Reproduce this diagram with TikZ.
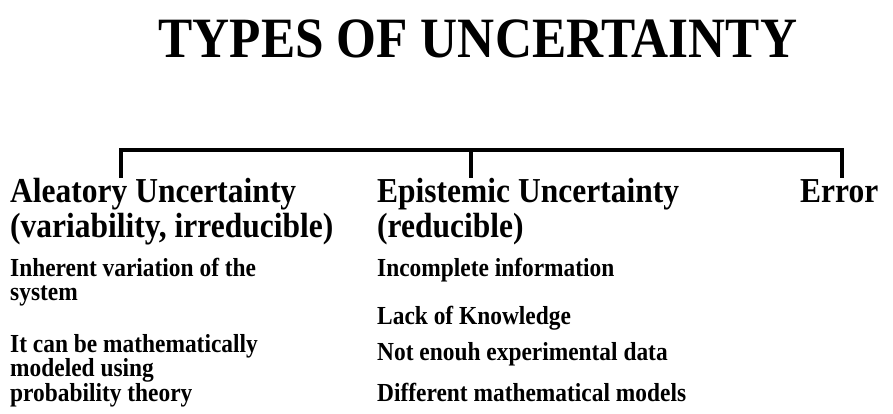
\documentclass[tikz,border=0pt]{standalone}
\usepackage{fontspec}
\setmainfont{Liberation Serif}
\newfontfamily\uncfont[FakeStretch=0.9]{Liberation Serif}

\begin{document}
\begin{tikzpicture}[
    x=1pt, y=-1pt,
    titlelbl/.style = {font=\uncfont\bfseries\fontsize{57}{60}\selectfont, anchor=base, inner sep=0pt},
    headlbl/.style  = {font=\uncfont\bfseries\fontsize{35}{38}\selectfont, anchor=base west, inner sep=0pt},
    bodylbl/.style  = {font=\uncfont\bfseries\fontsize{26}{28}\selectfont, anchor=base west, inner sep=0pt},
    bracket/.style  = {black, line width=3.5pt}
  ]
  \useasboundingbox (0,0) rectangle (893,414);

  \node[titlelbl] (title) at (478, 58) {TYPES OF UNCERTAINTY};

  % bracket
  \coordinate (barL) at (121, 150);
  \coordinate (barM) at (471, 150);
  \coordinate (barR) at (842, 150);
  \coordinate (legL) at (121, 178);
  \coordinate (legM) at (471, 178);
  \coordinate (legR) at (842, 178);
  \draw[bracket] (legL) -- (barL) -- (barR) -- (legR);
  \draw[bracket] (barM) -- (legM);

  % aleatory
  \node[headlbl] (aleaHead) at (10, 202) {Aleatory Uncertainty};
  \node[headlbl] (aleaSub)  at (10, 237) {(variability, irreducible)};
  \node[bodylbl] (aleaA1) at (10, 276) {Inherent variation of the};
  \node[bodylbl] (aleaA2) at (10, 300) {system};
  \node[bodylbl] (aleaB1) at (10, 352) {It can be mathematically};
  \node[bodylbl] (aleaB2) at (10, 376) {modeled using};
  \node[bodylbl] (aleaB3) at (10, 401) {probability theory};

  % epistemic
  \node[headlbl] (episHead) at (377, 202) {Epistemic Uncertainty};
  \node[headlbl] (episSub)  at (377, 237) {(reducible)};
  \node[bodylbl] (episA) at (377, 276) {Incomplete information};
  \node[bodylbl] (episB) at (377, 324) {Lack of Knowledge};
  \node[bodylbl] (episC) at (377, 360) {Not enouh experimental data};
  \node[bodylbl] (episD) at (377, 401) {Different mathematical models};

  % error
  \node[headlbl] (errHead) at (800, 202) {Error};
\end{tikzpicture}
\end{document}
